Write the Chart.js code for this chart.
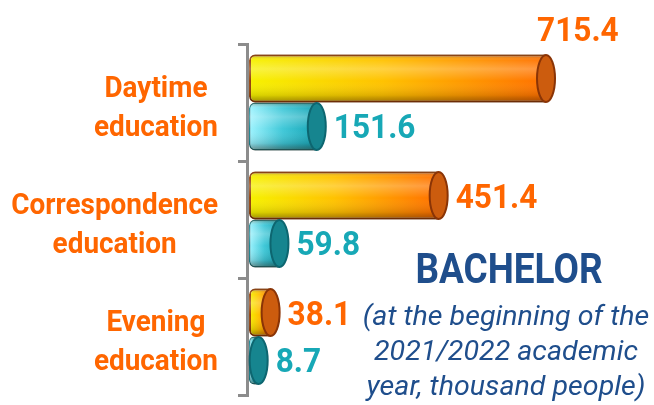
<!DOCTYPE html>
<html>
<head>
<meta charset="utf-8">
<script src="https://cdn.jsdelivr.net/npm/chart.js@4/dist/chart.umd.min.js"></script>
<style>
  html, body { margin: 0; padding: 0; background: #fff; }
  #wrap { width: 654px; height: 405px; position: relative; }
</style>
</head>
<body>
<div id="wrap"><canvas id="barChart"></canvas></div>
<script>
const categories = [["Daytime", "education"], ["Correspondence", "education"], ["Evening", "education"]];
const bachelorTotal = [715.4, 451.4, 38.1];
const bachelorBudget = [151.6, 59.8, 8.7];
const titleText = "BACHELOR";
const subtitleLines = ["(at the beginning of the", "2021/2022 academic", "year, thousand people)"];

const ORANGE_TXT = "#ff6600";
const TEAL_TXT = "#17a8b6";
const BLUE_TXT = "#1f4e8c";

function drawText(ctx, s, x, y, font, color, align, sx) {
  ctx.save();
  ctx.font = font;
  ctx.fillStyle = color;
  ctx.textAlign = align;
  ctx.textBaseline = "alphabetic";
  ctx.translate(x, y);
  ctx.scale(sx, 1);
  ctx.fillText(s, 0, 0);
  ctx.restore();
}

function barGradient(stops, fallback) {
  return (c) => {
    const chart = c.chart;
    const xs = chart.scales.x;
    if (!chart.chartArea || !xs || c.raw == null) return fallback;
    const x0 = xs.getPixelForValue(-15);
    const x1 = xs.getPixelForValue(c.raw);
    if (!isFinite(x0) || !isFinite(x1) || x1 - x0 < 1) return fallback;
    const g = chart.ctx.createLinearGradient(x0, 0, x1, 0);
    stops.forEach(([p, col]) => g.addColorStop(p, col));
    return g;
  };
}

const capStyle = [
  { fill: "#cc5c0e", stroke: "#8a3406" },
  { fill: "#16858f", stroke: "#0d6670" }
];

const cylinders = {
  id: "cylinders",
  afterDatasetsDraw(chart) {
    const ctx = chart.ctx;
    chart.data.datasets.forEach((ds, di) => {
      chart.getDatasetMeta(di).data.forEach((bar, i) => {
        const { x, y, base, height } = bar.getProps(["x", "y", "base", "height"], true);
        const top = y - height / 2;
        // round shading
        ctx.save();
        const sh = ctx.createLinearGradient(0, top, 0, top + height);
        sh.addColorStop(0, "rgba(90,40,0,0.4)");
        sh.addColorStop(0.12, "rgba(255,255,255,0.05)");
        sh.addColorStop(0.3, "rgba(255,255,255,0.25)");
        sh.addColorStop(0.55, "rgba(255,255,255,0)");
        sh.addColorStop(0.85, "rgba(0,0,0,0.12)");
        sh.addColorStop(1, "rgba(60,20,0,0.45)");
        ctx.fillStyle = sh;
        ctx.beginPath();
        ctx.roundRect(base, top, x - base, height, [6, 0, 0, 6]);
        ctx.fill();
        // end cap
        const rx = 9;
        ctx.beginPath();
        ctx.ellipse(x, y, rx, height / 2 - 0.5, 0, 0, Math.PI * 2);
        ctx.fillStyle = capStyle[di].fill;
        ctx.fill();
        ctx.lineWidth = 2;
        ctx.strokeStyle = capStyle[di].stroke;
        ctx.stroke();
        ctx.restore();

        // value label
        const txt = Number(ds.data[i]).toFixed(1);
        const col = di === 0 ? ORANGE_TXT : TEAL_TXT;
        const area = chart.chartArea;
        if (x > area.left + area.width * 0.6) {
          drawText(ctx, txt, x - rx, top - 14, "bold 34px Roboto", col, "left", 0.93);
        } else {
          drawText(ctx, txt, x + rx + 8, y + 12, "bold 34px Roboto", col, "left", 0.93);
        }
      });
    });
  },
  afterDraw(chart) {
    const ctx = chart.ctx;
    const ys = chart.scales.y;
    const sx = 0.93;
    // category labels: lines centred in a block whose right edge sits left of the axis
    categories.forEach((lines, i) => {
      const c = ys.getPixelForValue(i);
      ctx.save();
      ctx.font = "bold 30px Roboto";
      const w = Math.max(...lines.map(l => ctx.measureText(l).width)) * sx;
      ctx.restore();
      const cx = 218 - w / 2;
      lines.forEach((l, k) => {
        drawText(ctx, l, cx, c - 6 + k * 39, "bold 30px Roboto", ORANGE_TXT, "center", sx);
      });
    });
    // title block
    drawText(ctx, titleText, 509, 283, "bold 42px Roboto", BLUE_TXT, "center", 0.88);
    subtitleLines.forEach((l, k) => {
      drawText(ctx, l, 506, 325 + k * 35, "italic 27px Roboto", BLUE_TXT, "center", 1.06);
    });
  }
};

new Chart(document.getElementById("barChart").getContext("2d"), {
  type: "bar",
  data: {
    labels: categories,
    datasets: [
      {
        label: "Total",
        data: bachelorTotal,
        base: -15,
        backgroundColor: barGradient([[0, "#f6f200"], [0.45, "#ffc200"], [1, "#ff7000"]], "#ffb000"),
        borderColor: "#94400a",
        borderWidth: 2,
        borderSkipped: false,
        borderRadius: { topLeft: 6, bottomLeft: 6, topRight: 0, bottomRight: 0 }
      },
      {
        label: "Budget",
        data: bachelorBudget,
        base: -15,
        backgroundColor: barGradient([[0, "#9ef4ff"], [0.5, "#40c8d8"], [1, "#17a4b4"]], "#40c8d8"),
        borderColor: "#12808e",
        borderWidth: 1.5,
        borderSkipped: false,
        borderRadius: { topLeft: 6, bottomLeft: 6, topRight: 0, bottomRight: 0 }
      }
    ]
  },
  options: {
    responsive: true,
    maintainAspectRatio: false,
    animation: false,
    indexAxis: "y",
    layout: { padding: { top: 44, bottom: 10, left: 0, right: 0 } },
    datasets: { bar: { categoryPercentage: 0.82, barPercentage: 1.0 } },
    plugins: { legend: { display: false }, tooltip: { enabled: false } },
    scales: {
      x: { display: false, min: -20, max: 981 },
      y: {
        afterFit: (s) => { s.width = 247; },
        ticks: { display: false },
        border: { display: true, color: "#8c8c8c", width: 3 },
        grid: { display: true, drawOnChartArea: false, drawTicks: true, tickLength: 9, color: "#8c8c8c", lineWidth: 3, offset: true }
      }
    }
  },
  plugins: [cylinders]
});
</script>
</body>
</html>
